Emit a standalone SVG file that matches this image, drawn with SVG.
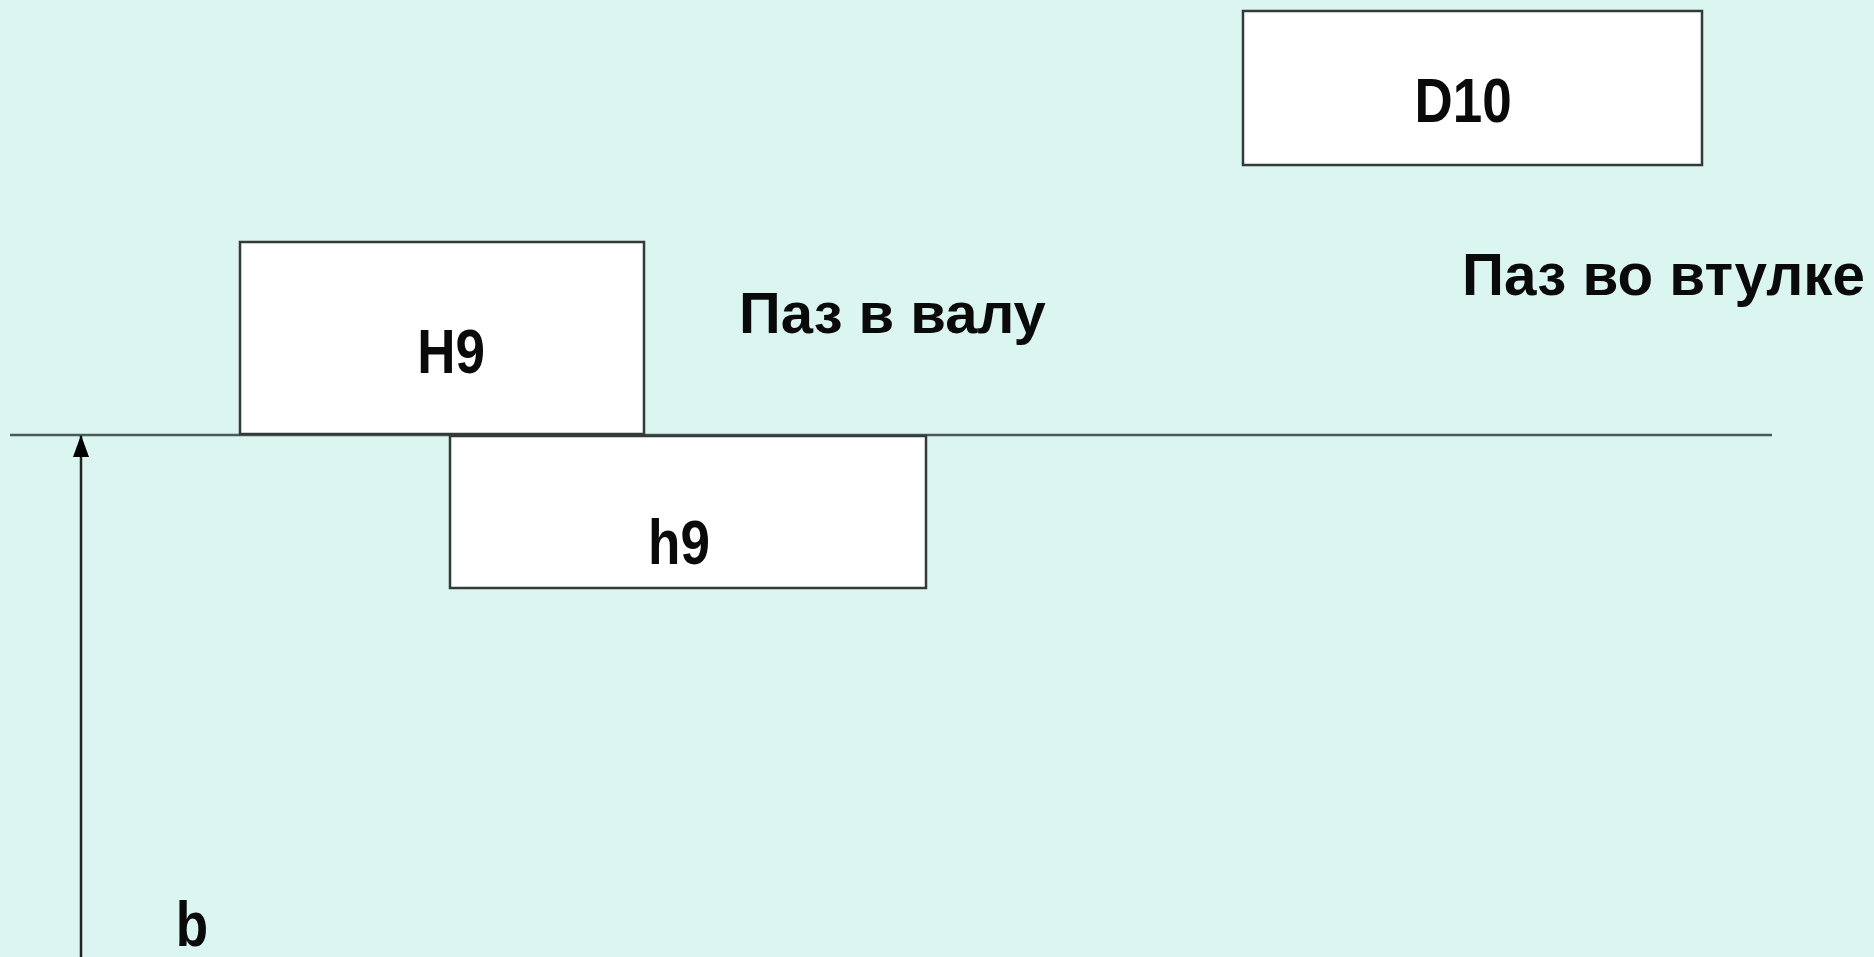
<svg xmlns="http://www.w3.org/2000/svg" width="1874" height="957" viewBox="0 0 1874 957">
<style>
.box{fill:#ffffff;stroke:#333a3a;stroke-width:2.5}
.lbl{font-family:"Liberation Sans",Arial,sans-serif;font-weight:bold;fill:#0a0a0a}
.conn{stroke:#4a5a5a;stroke-width:2.5;fill:none}
</style>
<defs>
<marker id="ah" viewBox="0 0 22 16" refX="21" refY="8" markerWidth="22" markerHeight="16" markerUnits="userSpaceOnUse" orient="auto">
<polygon points="0,0 22,8 0,16" fill="#000"/>
</marker>
</defs>
<rect width="1874" height="957" fill="#dbf5f1"/>
<g id="connectors">
<line class="conn" x1="10" y1="435" x2="1772" y2="435"/>
<line x1="81" y1="957" x2="81" y2="436" stroke="#222" stroke-width="2.5" marker-end="url(#ah)"/>
</g>
<g id="node-H9">
<rect class="box" x="240" y="242" width="404" height="192"/>
<text class="lbl" font-size="53" text-anchor="middle" transform="translate(451,373) scale(1,1.2)">H9</text>
</g>
<g id="node-h9">
<rect class="box" x="450" y="436" width="476" height="152"/>
<text class="lbl" font-size="53" text-anchor="middle" transform="translate(679,564) scale(1,1.2)">h9</text>
</g>
<g id="node-D10">
<rect class="box" x="1243" y="11" width="459" height="154"/>
<text class="lbl" font-size="53" text-anchor="middle" transform="translate(1463,122) scale(1,1.2)">D10</text>
</g>
<g id="label-shaft">
<text class="lbl" x="739" y="333" font-size="58">Паз в валу</text>
</g>
<g id="label-hub">
<text class="lbl" x="1462" y="295" font-size="59" textLength="403" lengthAdjust="spacingAndGlyphs">Паз во втулке</text>
</g>
<g id="label-b">
<text class="lbl" font-size="53" text-anchor="middle" transform="translate(192,946) scale(1,1.2)">b</text>
</g>
</svg>
